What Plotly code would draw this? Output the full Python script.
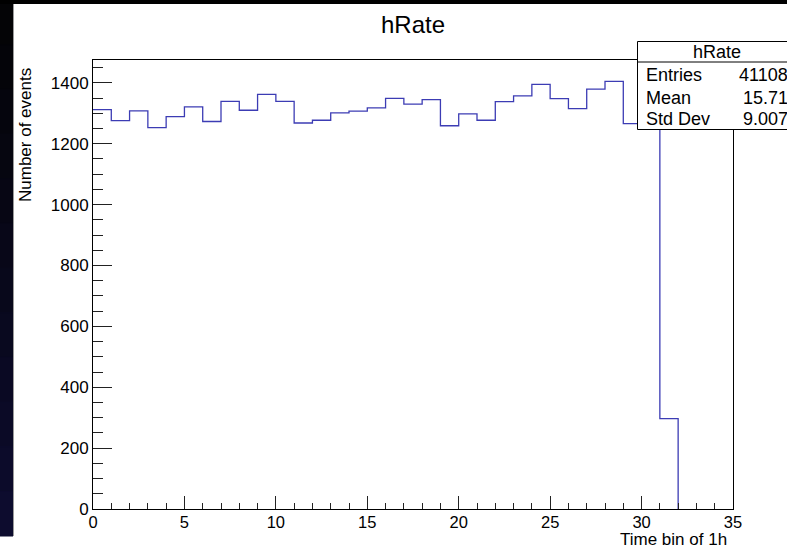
import plotly.graph_objects as go

# Histogram "hRate": event counts per 1-hour time bin (35 bins from 0 to 35)
bin_edges = list(range(0, 36))
counts = [1312, 1276, 1308, 1253, 1289, 1321, 1273, 1339, 1310, 1362,
          1339, 1268, 1277, 1301, 1307, 1318, 1349, 1330, 1345, 1259,
          1298, 1277, 1338, 1357, 1395, 1348, 1315, 1379, 1405, 1266,
          1297, 297, 0, 0, 0]

hist_name = "hRate"
x_title = "Time bin of 1h"
y_title = "Number of events"
stat_labels = ["Entries", "Mean", "Std Dev"]
stat_values = ["41108", "15.71", "9.007"]

W, H = 787, 550
L, R, T, B = 93, 54, 60, 41
PW, PH = W - L - R, H - T - B
FONT = "Liberation Sans, Arial, Helvetica, sans-serif"
LINE_BLUE = "#3c3cb4"


def px(x):
    return (x - L) / PW


def py(y):
    return (H - B - y) / PH


# outline stops after the last filled bin, dropping back to zero there
last = max(i for i, c in enumerate(counts) if c > 0) + 1
step_x = bin_edges[:last + 1]
step_y = counts[:last] + [0]

fig = go.Figure()
fig.add_trace(go.Scatter(
    x=step_x,
    y=step_y,
    mode="lines",
    line=dict(shape="hv", color=LINE_BLUE, width=1.3),
    hoverinfo="skip",
    showlegend=False,
))

shapes = []

# dark window surround (left strip with a slight gradient, top bar)
n_bands = 12
top, bottom = 0, 536
for i in range(n_bands):
    f = i / (n_bands - 1)
    r = int(4 + f * 9)
    g = int(4 + f * 8)
    b = int(6 + f * 40)
    y0 = top + (bottom - top) * i / n_bands
    y1 = min(bottom, top + (bottom - top) * (i + 1) / n_bands + 2)
    shapes.append(dict(type="rect", xref="paper", yref="paper",
                       x0=px(-2), x1=px(13), y0=py(y1), y1=py(y0),
                       fillcolor=f"rgb({r},{g},{b})",
                       line=dict(width=1, color=f"rgb({r},{g},{b})"),
                       layer="above"))
shapes.append(dict(type="rect", xref="paper", yref="paper",
                   x0=px(-2), x1=px(W + 2), y0=py(4), y1=py(-2),
                   fillcolor="#000000", line=dict(width=0), layer="above"))
shapes.append(dict(type="line", xref="paper", yref="paper",
                   x0=px(13.5), x1=px(13.5), y0=py(536), y1=py(4),
                   line=dict(color="#9a9a9a", width=1), layer="above"))

# statistics box
box_l, box_t, box_b, box_div = 637.5, 41.5, 129.5, 62
shapes.append(dict(type="rect", xref="paper", yref="paper",
                   x0=px(box_l), x1=px(W + 5), y0=py(box_b), y1=py(box_t),
                   fillcolor="white", line=dict(color="black", width=1),
                   layer="above"))
shapes.append(dict(type="line", xref="paper", yref="paper",
                   x0=px(box_l), x1=px(W + 5), y0=py(box_div), y1=py(box_div),
                   line=dict(color="black", width=1), layer="above"))

annotations = [
    dict(text=hist_name, x=px(413), y=py(24), xref="paper", yref="paper",
         showarrow=False, xanchor="center", yanchor="middle",
         font=dict(family=FONT, size=24, color="black")),
    dict(text=x_title, x=px(728), y=py(550), xref="paper", yref="paper",
         showarrow=False, xanchor="right", yanchor="bottom", borderpad=0,
         font=dict(family=FONT, size=17, color="black")),
    dict(text=y_title, x=px(25), y=py(66), xref="paper", yref="paper",
         showarrow=False, xanchor="center", yanchor="top", textangle=-90,
         font=dict(family=FONT, size=17, color="black")),
    dict(text=hist_name, x=px(716.5), y=py(52), xref="paper", yref="paper",
         showarrow=False, xanchor="center", yanchor="middle",
         font=dict(family=FONT, size=18, color="black")),
]
row_y = [75, 98, 118.5]
for lab, val, yy in zip(stat_labels, stat_values, row_y):
    annotations.append(dict(text=lab, x=px(644), y=py(yy), xref="paper", yref="paper",
                            showarrow=False, xanchor="left", yanchor="middle",
                            font=dict(family=FONT, size=18, color="black")))
    annotations.append(dict(text=val, x=px(790), y=py(yy), xref="paper", yref="paper",
                            showarrow=False, xanchor="right", yanchor="middle",
                            font=dict(family=FONT, size=18, color="black")))

fig.update_layout(
    width=W, height=H, autosize=False,
    margin=dict(l=L, r=R, t=T, b=B, pad=0),
    paper_bgcolor="white", plot_bgcolor="white",
    shapes=shapes, annotations=annotations,
    showlegend=False,
)

fig.update_xaxes(
    range=[0, 35], dtick=5, tick0=0,
    ticks="inside", ticklen=13, tickwidth=1, tickcolor="#222222",
    minor=dict(dtick=1, ticks="inside", ticklen=6, tickwidth=1, tickcolor="#222222"),
    showgrid=False, zeroline=False,
    showline=True, linecolor="black", linewidth=1, mirror=True,
    tickfont=dict(family=FONT, size=16.5, color="black"),
    ticklabelstandoff=-2,
    fixedrange=True,
)
fig.update_yaxes(
    range=[0, 1475], dtick=200, tick0=0,
    ticks="inside", ticklen=19, tickwidth=1, tickcolor="#222222",
    minor=dict(dtick=50, ticks="inside", ticklen=10, tickwidth=1, tickcolor="#222222"),
    showgrid=False, zeroline=False,
    showline=True, linecolor="black", linewidth=1, mirror=True,
    tickfont=dict(family=FONT, size=17, color="black"),
    fixedrange=True,
)

fig.write_html("out.html", config=dict(displayModeBar=False))
